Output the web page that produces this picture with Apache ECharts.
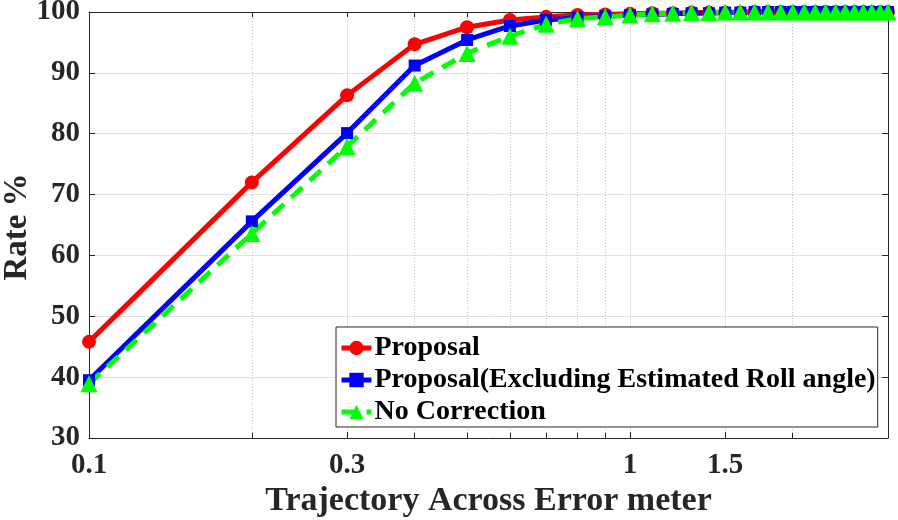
<!DOCTYPE html>
<html>
<head>
<meta charset="utf-8">
<title>Rate vs Trajectory Across Error</title>
<script src="https://cdn.jsdelivr.net/npm/echarts@6.0.0/dist/echarts.min.js"></script>
<style>
  html, body { margin: 0; padding: 0; background: #fff; }
  #chart { width: 898px; height: 520px; }
</style>
</head>
<body>
<div id="chart"></div>
<script>
// x: trajectory across error (meter), log scale
var errorMeter = [0.1, 0.2, 0.3, 0.4, 0.5, 0.6, 0.7, 0.8, 0.9, 1.0,
                  1.1, 1.2, 1.3, 1.4, 1.5, 1.6, 1.7, 1.8, 1.9, 2.0,
                  2.1, 2.2, 2.3, 2.4, 2.5, 2.6, 2.7, 2.8, 2.9, 3.0];
// rate % per series
var proposal = [45.8, 72.0, 86.3, 94.7, 97.5, 98.7, 99.2, 99.5, 99.6, 99.7,
                99.8, 99.8, 99.9, 99.9, 99.9, 99.9, 100, 100, 100, 100,
                100, 100, 100, 100, 100, 100, 100, 100, 100, 100];
var proposalNoRoll = [39.5, 65.6, 80.1, 91.2, 95.4, 97.7, 98.7, 99.1, 99.3, 99.5,
                      99.6, 99.7, 99.8, 99.8, 99.9, 99.9, 100, 100, 100, 100,
                      100, 100, 100, 100, 100, 100, 100, 100, 100, 100];
var noCorrection = [38.9, 63.6, 77.9, 88.3, 93.2, 96.0, 98.0, 98.9, 99.2, 99.5,
                    99.7, 99.8, 99.9, 99.9, 100, 100, 100, 100, 100, 100,
                    100, 100, 100, 100, 100, 100, 100, 100, 100, 100];
var seriesNames = ['Proposal', 'Proposal(Excluding Estimated Roll angle)', 'No Correction'];
// tick labels and grid positions of the x axis
var majorTicks = [0.1, 0.3, 1, 1.5];
var minorTicks = [0.2, 0.4, 0.5, 0.6, 0.7, 0.8, 0.9, 2];
var xMin = 0.1, xMax = 3;

var FONT = 'Liberation Serif';
var TXT = '#262626';
var lg = function (arr) { return arr.map(function (v) { return Math.log10(v); }); };
var pairs = function (ys) { return errorMeter.map(function (x, i) { return [x, ys[i]]; }); };

var chart = echarts.init(document.getElementById('chart'));

// helper axes share the log range so ticks/grid sit on log positions
var logAxis = function (extra) {
  return Object.assign({
    type: 'value',
    min: Math.log10(xMin),
    max: Math.log10(xMax),
    axisLabel: { show: false },
    axisTick: { show: false },
    axisLine: { show: false, onZero: false },
    splitLine: { show: false }
  }, extra);
};

var option = {
  backgroundColor: '#fff',
  animation: false,
  grid: { left: 89, right: 10, top: 12, bottom: 82, outerBoundsMode: 'none' },
  // y axis title, placed by hand (axis name kept getting pushed off the left edge)
  graphic: [{
    type: 'text',
    x: 1, y: 227,
    rotation: Math.PI / 2,
    style: {
      text: 'Rate %',
      font: 'bold 33px "Liberation Serif"',
      fill: TXT,
      align: 'center',
      verticalAlign: 'top'
    }
  }],
  xAxis: [
    { // data axis
      type: 'log', logBase: 10, min: xMin, max: xMax, show: false, position: 'bottom'
    },
    logAxis({ // bottom: line, minor ticks, labels, dotted grid
      position: 'bottom',
      name: 'Trajectory Across Error meter',
      nameLocation: 'middle',
      nameGap: 46,
      nameMoveOverlap: false,
      nameTextStyle: { fontFamily: FONT, fontWeight: 'bold', fontSize: 34, color: TXT },
      axisLine: { show: true, onZero: false, lineStyle: { color: TXT, width: 1 } },
      axisTick: { show: true, inside: true, length: 5, customValues: lg(minorTicks), lineStyle: { color: TXT } },
      axisLabel: {
        show: true, margin: 13, customValues: lg(majorTicks),
        fontFamily: FONT, fontWeight: 'bold', fontSize: 29, color: TXT,
        formatter: function (v) { return String(parseFloat(Math.pow(10, v).toPrecision(2))); }
      },
      splitLine: { show: true, lineStyle: { color: '#c4c4c4', type: [1, 2], width: 1 } }
    }),
    logAxis({ // bottom: major ticks + solid grid
      position: 'bottom',
      axisTick: { show: true, inside: true, length: 6, customValues: lg(majorTicks), lineStyle: { color: TXT } },
      splitLine: { show: true, lineStyle: { color: '#e2e2e2', width: 1 } }
    }),
    logAxis({ // top box line
      position: 'top',
      axisLine: { show: true, onZero: false, lineStyle: { color: TXT, width: 1 } },
      axisTick: { show: true, inside: true, length: 5, customValues: lg(majorTicks.concat(minorTicks)), lineStyle: { color: TXT } }
    })
  ],
  yAxis: [
    {
      type: 'value', min: 30, max: 100, interval: 10, position: 'left',
      axisLine: { show: true, onZero: false, lineStyle: { color: TXT, width: 1 } },
      axisTick: { show: true, inside: true, length: 6, lineStyle: { color: TXT } },
      axisLabel: { margin: 9, fontFamily: FONT, fontWeight: 'bold', fontSize: 29, color: TXT },
      splitLine: { show: true, lineStyle: { color: '#e2e2e2', width: 1 } }
    },
    {
      type: 'value', min: 30, max: 100, interval: 10, position: 'right',
      axisLine: { show: true, onZero: false, lineStyle: { color: TXT, width: 1 } },
      axisTick: { show: true, inside: true, length: 6, lineStyle: { color: TXT } },
      axisLabel: { show: false },
      splitLine: { show: false }
    }
  ],
  legend: {
    orient: 'vertical',
    left: 336, top: 327,
    data: seriesNames,
    backgroundColor: '#fff',
    borderColor: TXT,
    borderWidth: 1,
    padding: [7, 2, 1, 3],
    itemGap: 4,
    itemWidth: 30,
    itemHeight: 18,
    lineStyle: { width: 5 },
    textStyle: { fontFamily: FONT, fontWeight: 'bold', fontSize: 28, color: '#000', padding: [0, 0, 0, -2] }
  },
  series: [
    {
      name: seriesNames[0], type: 'line', xAxisIndex: 0, yAxisIndex: 0, clip: false,
      data: pairs(proposal),
      symbol: 'circle', symbolSize: 14,
      itemStyle: { color: '#ff0000' },
      lineStyle: { color: '#ff0000', width: 5 }
    },
    {
      name: seriesNames[1], type: 'line', xAxisIndex: 0, yAxisIndex: 0, clip: false,
      data: pairs(proposalNoRoll),
      symbol: 'rect', symbolSize: 12,
      itemStyle: { color: '#0000ff' },
      lineStyle: { color: '#0000ff', width: 5 }
    },
    {
      name: seriesNames[2], type: 'line', xAxisIndex: 0, yAxisIndex: 0, clip: false,
      data: pairs(noCorrection),
      symbol: 'triangle', symbolSize: 17,
      itemStyle: { color: '#00ff00' },
      lineStyle: { color: '#00ff00', width: 5, type: [15, 10] }
    }
  ]
};

chart.setOption(option);
</script>
</body>
</html>
